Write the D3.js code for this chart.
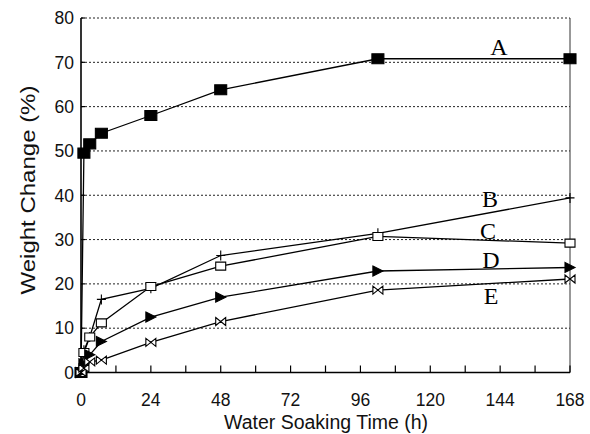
<!DOCTYPE html>
<html><head><meta charset="utf-8">
<script src="https://cdn.jsdelivr.net/npm/d3@7"></script>
<style>body{margin:0;background:#fff}svg{display:block}</style>
</head><body>
<svg id="c" width="590" height="434"></svg>
<script>
const times = [0, 1, 3, 7, 24, 48, 102, 168];
const seriesA = [0, 49.5, 51.6, 54, 58, 63.8, 70.8, 70.8];
const seriesB = [0, 5, 8, 16.5, 19, 26.4, 31.4, 39.4];
const seriesC = [0, 4.5, 8, 11.2, 19.4, 24, 30.7, 29.2];
const seriesD = [0, 2, 4, 7, 12.5, 17, 22.9, 23.7];
const seriesE = [0, 1, 2.4, 2.8, 6.8, 11.5, 18.6, 21.1];
const seriesNames = ["A", "B", "C", "D", "E"];
const xTicks = [0, 24, 48, 72, 96, 120, 144, 168];
const xMinorTicks = [12, 36, 60, 84, 108, 132, 156];
const yTicks = [0, 10, 20, 30, 40, 50, 60, 70, 80];

const svg = d3.select("#c");
const x = d3.scaleLinear().domain([0, 168]).range([81, 570]);
const y = d3.scaleLinear().domain([0, 80]).range([372.5, 18]);

// grid lines
svg.append("g").selectAll("line").data(yTicks.filter(d => d > 0)).join("line")
  .attr("x1", x(0)).attr("x2", x(168)).attr("y1", d => y(d)).attr("y2", d => y(d))
  .attr("stroke", "#222").attr("stroke-width", 1).attr("stroke-dasharray", "2,2");

// frame
svg.append("line").attr("x1", x(168)).attr("x2", x(168)).attr("y1", y(80)).attr("y2", y(0))
  .attr("stroke", "#333").attr("stroke-width", 1);
svg.append("line").attr("x1", x(0)).attr("x2", x(0)).attr("y1", y(80)).attr("y2", y(0))
  .attr("stroke", "#000").attr("stroke-width", 1.6);
svg.append("line").attr("x1", x(0)).attr("x2", x(168)).attr("y1", y(0)).attr("y2", y(0))
  .attr("stroke", "#000").attr("stroke-width", 1.4);

// x ticks (inside)
svg.append("g").selectAll("line").data(xTicks.concat(xMinorTicks)).join("line")
  .attr("x1", d => x(d)).attr("x2", d => x(d)).attr("y1", y(0)).attr("y2", y(0) - 7)
  .attr("stroke", "#000").attr("stroke-width", 1.2);
// y ticks (inside)
svg.append("g").selectAll("line").data(yTicks).join("line")
  .attr("x1", x(0)).attr("x2", x(0) + 4).attr("y1", d => y(d)).attr("y2", d => y(d))
  .attr("stroke", "#000").attr("stroke-width", 1.2);

const font = "'Liberation Sans', Arial, sans-serif";
// x tick labels
svg.append("g").selectAll("text").data(xTicks).join("text")
  .attr("x", d => x(d)).attr("y", 406)
  .attr("text-anchor", "middle").attr("font-family", font).attr("font-size", 17.5)
  .attr("fill", "#111").text(d => d);
// y tick labels
svg.append("g").selectAll("text").data(yTicks).join("text")
  .attr("x", 74).attr("y", d => y(d) + 6.3)
  .attr("text-anchor", "end").attr("font-family", font).attr("font-size", 17.5)
  .attr("fill", "#111").text(d => d);

// axis titles
svg.append("text").attr("x", 326).attr("y", 429)
  .attr("text-anchor", "middle").attr("font-family", font).attr("font-size", 19.5)
  .attr("fill", "#111").text("Water Soaking Time (h)");
svg.append("text").attr("transform", "translate(35,190) rotate(-90) scale(1.2,1)")
  .attr("text-anchor", "middle").attr("font-family", font).attr("font-size", 20)
  .attr("fill", "#111").text("Weight Change (%)");

// lines and markers
const allSeries = [seriesA, seriesB, seriesC, seriesD, seriesE];
const line = d3.line().x(d => x(d[0])).y(d => y(d[1]));
allSeries.forEach(vals => {
  svg.append("path").datum(times.map((t, i) => [t, vals[i]]))
    .attr("d", line).attr("fill", "none").attr("stroke", "#000").attr("stroke-width", 1.3);
});

const markerPaths = {
  A: "M-6,-5H6V5H-6Z",
  B: "M-4.5,0H4.5M0,-5V5",
  C: "M-5,-4H5V4H-5Z",
  D: "M-5,-5L5,0L-5,5Z",
  E: "M-5,-4L0,0L-5,4ZM5,-4L0,0L5,4Z"
};
const markerFill = {A: "#000", B: "none", C: "#fff", D: "#000", E: "#fff"};
allSeries.forEach((vals, si) => {
  const n = seriesNames[si];
  svg.append("g").selectAll("path").data(times.map((t, i) => [t, vals[i]])).join("path")
    .attr("transform", d => `translate(${x(d[0])},${y(d[1])})`)
    .attr("d", markerPaths[n]).attr("fill", markerFill[n])
    .attr("stroke", "#000").attr("stroke-width", 1.1);
});

// series labels
const labelPos = [[499, 55], [490, 207], [488, 239], [491, 268], [491, 304]];
svg.append("g").selectAll("text").data(seriesNames).join("text")
  .attr("x", (d, i) => labelPos[i][0]).attr("y", (d, i) => labelPos[i][1])
  .attr("text-anchor", "middle").attr("font-family", "'Liberation Serif', 'Times New Roman', serif")
  .attr("font-size", 24).attr("fill", "#000").text(d => d);
</script>
</body></html>
